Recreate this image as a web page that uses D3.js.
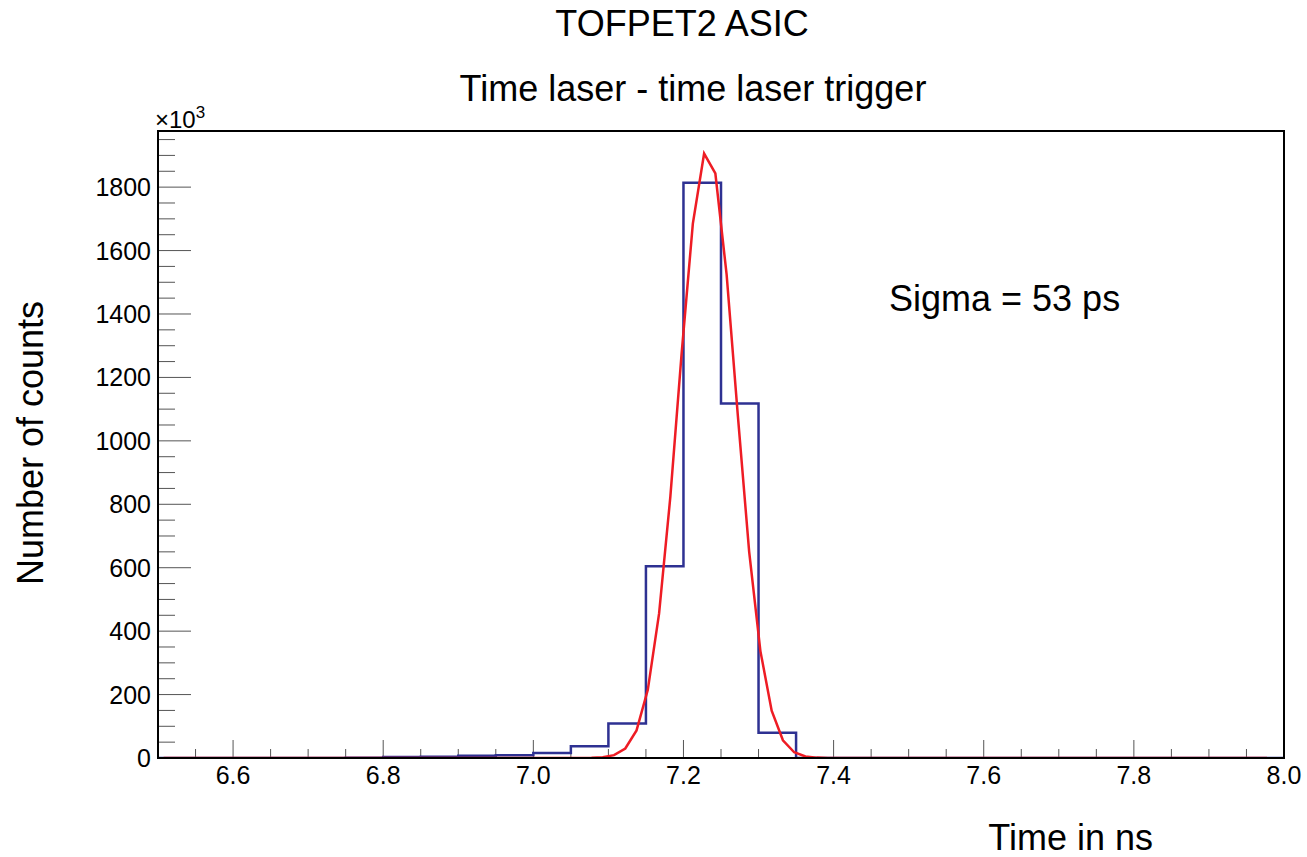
<!DOCTYPE html>
<html>
<head>
<meta charset="utf-8">
<script src="https://cdn.jsdelivr.net/npm/d3@7"></script>
<style>
  html, body { margin: 0; padding: 0; background: #fff; }
  svg text { font-family: "Liberation Sans", Arial, Helvetica, sans-serif; fill: #000; }
</style>
</head>
<body>
<svg id="chart" width="1307" height="857"></svg>
<script>
// ---------- data ----------
const binEdges = [6.50, 6.55, 6.60, 6.65, 6.70, 6.75, 6.80, 6.85, 6.90, 6.95,
                  7.00, 7.05, 7.10, 7.15, 7.20, 7.25, 7.30, 7.35, 7.40, 7.45,
                  7.50, 7.55, 7.60, 7.65, 7.70, 7.75, 7.80, 7.85, 7.90, 7.95, 8.00];
// counts in units of 10^3
const binCounts = [0, 0, 0, 0, 0, 1, 3, 4, 7, 9,
                   16, 37, 109, 605, 1814, 1118, 80, 0, 0, 0,
                   0, 0, 0, 0, 0, 0, 0, 0, 0, 0];
// Gaussian fit curve points
const fitX = [6.5075, 7.0325, 7.0475, 7.0625, 7.0775, 7.0925, 7.1075, 7.1225, 7.1375, 7.1525,
              7.1675, 7.1825, 7.1975, 7.2125, 7.2275, 7.2425, 7.2575, 7.2725, 7.2875, 7.3025,
              7.3175, 7.3325, 7.3475, 7.3625, 7.3775, 7.3925, 7.4075, 7.4225, 7.9775];
const fitY = [0, 0, 0.01, 0.1, 0.5, 2.2, 9, 30, 87, 215,
              455, 823, 1274, 1685, 1906, 1843, 1524, 1078, 651, 337,
              149, 56, 18, 5, 1.2, 0.2, 0, 0, 0];
const xTickLabels = ["6.6", "6.8", "7.0", "7.2", "7.4", "7.6", "7.8", "8.0"];
const yTickValues = [0, 200, 400, 600, 800, 1000, 1200, 1400, 1600, 1800];
const titleMain = "TOFPET2 ASIC";
const titleSub = "Time laser - time laser trigger";
const xTitle = "Time in ns";
const yTitle = "Number of counts";
const annotation = "Sigma = 53 ps";

// ---------- layout ----------
const L = 158, R = 1284, T = 131, B = 758;
const svg = d3.select("#chart");
const x = d3.scaleLinear().domain([6.5, 8.0]).range([L, R]);
const y = d3.scaleLinear().domain([0, 1977]).range([B, T]);

svg.append("defs").append("clipPath").attr("id", "clip")
  .append("rect").attr("x", L).attr("y", T - 1).attr("width", R - L).attr("height", B - T + 1);

// ticks (ROOT style: inside frame)
const tickColor = "#555";
const xMinor = d3.range(6.5, 8.0001, 0.05);
const xMajorVals = xTickLabels.map(Number);
const gx = svg.append("g");
xMinor.forEach(v => {
  const isMajor = xMajorVals.some(m => Math.abs(m - v) < 1e-6);
  gx.append("line")
    .attr("x1", x(v)).attr("x2", x(v))
    .attr("y1", B).attr("y2", B - (isMajor ? 18 : 9))
    .attr("stroke", tickColor).attr("stroke-width", 1);
});
xTickLabels.forEach(lbl => {
  gx.append("text")
    .attr("x", x(+lbl)).attr("y", 784)
    .attr("text-anchor", "middle")
    .attr("font-size", 25)
    .text(lbl);
});

const gy = svg.append("g");
const yMinor = d3.range(0, 1977, 50);
yMinor.forEach(v => {
  const isMajor = yTickValues.includes(v);
  gy.append("line")
    .attr("x1", L).attr("x2", L + (isMajor ? 33 : 17))
    .attr("y1", y(v)).attr("y2", y(v))
    .attr("stroke", tickColor).attr("stroke-width", 1);
});
yTickValues.forEach(v => {
  gy.append("text")
    .attr("x", 151).attr("y", y(v))
    .attr("dy", "0.36em")
    .attr("text-anchor", "end")
    .attr("font-size", 25)
    .text(v);
});
// x10^3 multiplier
const mult = svg.append("text").attr("x", 155).attr("y", 128).attr("font-size", 24);
mult.append("tspan").text("\u00d710");
mult.append("tspan").attr("font-size", 17).attr("dy", -10).text("3");

// histogram
const stepData = binCounts.map((c, i) => ({ x: binEdges[i], c }));
stepData.push({ x: binEdges[binEdges.length - 1], c: binCounts[binCounts.length - 1] });
const histLine = d3.line().x(d => x(d.x)).y(d => y(d.c)).curve(d3.curveStepAfter);
svg.append("path")
  .attr("clip-path", "url(#clip)")
  .attr("d", histLine(stepData))
  .attr("fill", "none")
  .attr("stroke", "#2e3192")
  .attr("stroke-width", 2.5);

// fit curve
const fitLine = d3.line().x((d, i) => x(fitX[i])).y((d, i) => y(fitY[i]));
svg.append("path")
  .attr("clip-path", "url(#clip)")
  .attr("d", fitLine(fitX))
  .attr("fill", "none")
  .attr("stroke", "#ee1c24")
  .attr("stroke-width", 2.5)
  .attr("stroke-linejoin", "miter");

// frame
svg.append("rect")
  .attr("x", L).attr("y", T).attr("width", R - L).attr("height", B - T)
  .attr("fill", "none").attr("stroke", "#000").attr("stroke-width", 2);

// titles
svg.append("text").attr("x", 682).attr("y", 36).attr("text-anchor", "middle")
  .attr("font-size", 36).text(titleMain);
svg.append("text").attr("x", 693).attr("y", 101).attr("text-anchor", "middle")
  .attr("font-size", 36).text(titleSub);
svg.append("text").attr("x", 889).attr("y", 311)
  .attr("font-size", 36).text(annotation);
svg.append("text").attr("x", 1153).attr("y", 850).attr("text-anchor", "end")
  .attr("font-size", 36).text(xTitle);
svg.append("text")
  .attr("transform", "translate(43,443) rotate(-90)")
  .attr("text-anchor", "middle")
  .attr("font-size", 36).text(yTitle);
</script>
</body>
</html>
